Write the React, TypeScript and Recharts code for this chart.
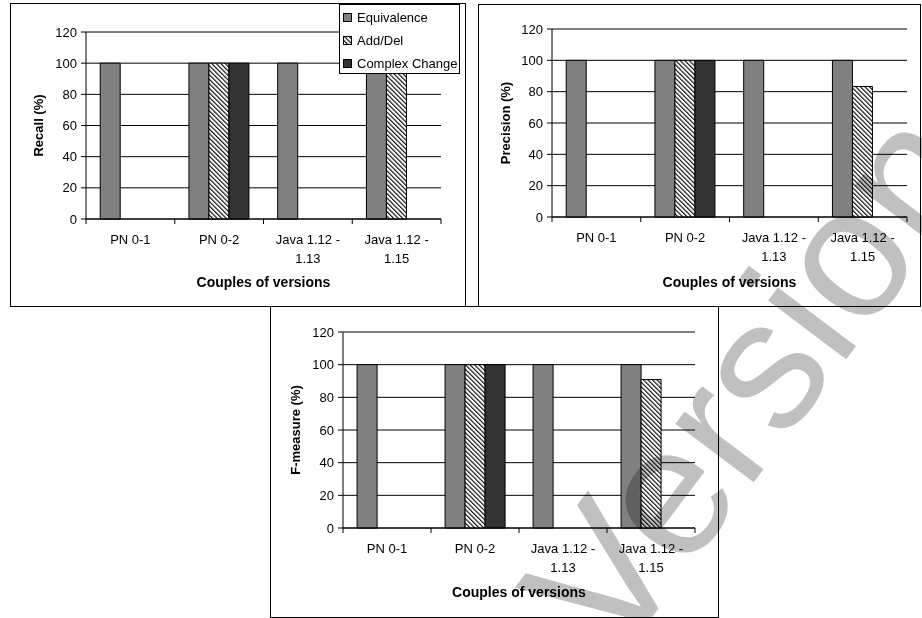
import React from 'react';
import { BarChart, Bar, XAxis, YAxis, CartesianGrid, Legend } from 'recharts';

const categories = ['PN 0-1', 'PN 0-2', 'Java 1.12 - 1.13', 'Java 1.12 - 1.15'];
const seriesNames = ['Equivalence', 'Add/Del', 'Complex Change'];
const yTicks = [0, 20, 40, 60, 80, 100, 120];
const xTitle = 'Couples of versions';

// recall (%)
const recallEquivalence = [100, 100, 100, 100];
const recallAddDel = [null, 100, null, 100];
const recallComplex = [null, 100, null, null];

// precision (%)
const precisionEquivalence = [100, 100, 100, 100];
const precisionAddDel = [null, 100, null, 83.3];
const precisionComplex = [null, 100, null, null];

// f-measure (%)
const fmeasureEquivalence = [100, 100, 100, 100];
const fmeasureAddDel = [null, 100, null, 90.9];
const fmeasureComplex = [null, 100, null, null];

const FONT = '"Liberation Sans", Arial, sans-serif';

const makeRows = (eq: (number | null)[], ad: (number | null)[], cc: (number | null)[]) =>
  categories.map((c, i) => ({ name: c, eq: eq[i], ad: ad[i], cc: cc[i] }));

function CategoryTick(props: any) {
  const { x, y, payload, index } = props;
  const half = payload?.offset ?? 0;
  const label: string = payload.value;
  const parts = label.includes(' - ')
    ? [label.split(' - ')[0] + ' -', label.split(' - ')[1]]
    : [label];
  return (
    <g>
      <line x1={x - half} x2={x - half} y1={y} y2={y + 5} stroke="#000" />
      {index === categories.length - 1 && (
        <line x1={x + half} x2={x + half} y1={y} y2={y + 5} stroke="#000" />
      )}
      <text x={x} y={y + 25} textAnchor="middle" fontSize={13} fill="#000">
        {parts.map((p, i) => (
          <tspan key={i} x={x} dy={i === 0 ? 0 : 18.5}>
            {p}
          </tspan>
        ))}
      </text>
    </g>
  );
}

// legend drawn in the series order, not the sorted payload order
function LegendBox(props: any) {
  const items = props.payload || [];
  const colorOf = (name: string) => items.find((it: any) => it.value === name)?.color ?? '#808080';
  return (
    <div
      style={{
        background: '#fff',
        border: '1px solid #000',
        boxSizing: 'border-box',
        width: 121,
        height: 70,
        paddingTop: 1,
        fontSize: 13,
        color: '#000',
        fontFamily: FONT,
        whiteSpace: 'nowrap',
      }}
    >
      {seriesNames.map((name, i) => (
        <div key={i} style={{ display: 'flex', alignItems: 'center', height: 23, paddingLeft: 3 }}>
          <svg width={9} height={9} style={{ marginRight: 5, flex: 'none' }}>
            <rect x={0.5} y={0.5} width={8} height={8} fill={colorOf(name)} stroke="#000" />
          </svg>
          <span>{name}</span>
        </div>
      ))}
    </div>
  );
}

interface PanelProps {
  id: string;
  yLabel: string;
  eq: (number | null)[];
  ad: (number | null)[];
  cc: (number | null)[];
  left: number;
  top: number;
  width: number;
  height: number;
  margin: { top: number; right: number };
  yWidth: number;
  yLabelOffset: number;
  xHeight: number;
  xLabelOffset: number;
  legend?: boolean;
}

function Panel(p: PanelProps) {
  const data = makeRows(p.eq, p.ad, p.cc);
  const innerW = p.width - 2;
  const innerH = p.height - 2;
  return (
    <div
      style={{
        position: 'absolute',
        left: p.left,
        top: p.top,
        width: p.width,
        height: p.height,
        boxSizing: 'border-box',
        border: '1px solid #000',
        background: '#fff',
      }}
    >
      <BarChart
        width={innerW}
        height={innerH}
        data={data}
        margin={{ top: p.margin.top, right: p.margin.right, left: 0, bottom: 0 }}
        barCategoryGap="16%"
        barGap={0}
      >
        <defs>
          <pattern
            id={`hatch-${p.id}`}
            width={3.2}
            height={3.2}
            patternUnits="userSpaceOnUse"
            patternTransform="rotate(-45)"
          >
            <rect width={3.2} height={3.2} fill="#fff" />
            <line x1={0.6} y1={0} x2={0.6} y2={3.2} stroke="#000" strokeWidth={1.1} />
          </pattern>
        </defs>
        <CartesianGrid vertical={false} stroke="#000" />
        <XAxis
          dataKey="name"
          interval={0}
          tickLine={false}
          tickSize={0}
          tickMargin={0}
          height={p.xHeight}
          stroke="#000"
          tick={<CategoryTick />}
          label={{
            value: xTitle,
            position: 'insideBottom',
            offset: p.xLabelOffset,
            style: { fontWeight: 'bold', fontSize: 14, fill: '#000' },
          }}
        />
        <YAxis
          domain={[0, 120]}
          ticks={yTicks}
          interval={0}
          width={p.yWidth}
          stroke="#000"
          tickSize={5}
          tickMargin={4}
          tick={{ fill: '#000', fontSize: 13 }}
          label={{
            value: p.yLabel,
            angle: -90,
            position: 'insideLeft',
            offset: p.yLabelOffset,
            style: { textAnchor: 'middle', fontWeight: 'bold', fontSize: 13, fill: '#000' },
          }}
        />
        <YAxis
          yAxisId="frame"
          orientation="right"
          domain={[0, 120]}
          width={0}
          tick={false}
          tickLine={false}
          stroke="#000"
        />
        {p.legend && (
          <Legend
            layout="horizontal"
            verticalAlign="middle"
            align="center"
            content={<LegendBox />}
            wrapperStyle={{ top: 0, left: 328, width: 121, height: 70 }}
          />
        )}
        <Bar dataKey="eq" name={seriesNames[0]} fill="#808080" stroke="#000" isAnimationActive={false} />
        <Bar dataKey="ad" name={seriesNames[1]} fill={`url(#hatch-${p.id})`} stroke="#000" isAnimationActive={false} />
        <Bar dataKey="cc" name={seriesNames[2]} fill="#333333" stroke="#000" isAnimationActive={false} />
      </BarChart>
    </div>
  );
}

export default function App() {
  return (
    <div
      style={{
        position: 'absolute',
        left: 0,
        top: 0,
        width: 922,
        height: 618,
        overflow: 'hidden',
        background: '#fff',
        fontFamily: FONT,
      }}
    >
      <Panel
        id="recall"
        yLabel="Recall (%)"
        eq={recallEquivalence}
        ad={recallAddDel}
        cc={recallComplex}
        left={10}
        top={3}
        width={456}
        height={304}
        margin={{ top: 28, right: 24 }}
        yWidth={75}
        yLabelOffset={27}
        xHeight={87}
        xLabelOffset={19}
        legend
      />
      <Panel
        id="precision"
        yLabel="Precision (%)"
        eq={precisionEquivalence}
        ad={precisionAddDel}
        cc={precisionComplex}
        left={478}
        top={4}
        width={443}
        height={303}
        margin={{ top: 24, right: 13 }}
        yWidth={73}
        yLabelOffset={26}
        xHeight={89}
        xLabelOffset={19}
      />
      <Panel
        id="fmeasure"
        yLabel="F-measure (%)"
        eq={fmeasureEquivalence}
        ad={fmeasureAddDel}
        cc={fmeasureComplex}
        left={270}
        top={306}
        width={449}
        height={312}
        margin={{ top: 25, right: 23 }}
        yWidth={72}
        yLabelOffset={24}
        xHeight={89}
        xLabelOffset={20}
      />
      <svg
        width={922}
        height={618}
        style={{ position: 'absolute', left: 0, top: 0, pointerEvents: 'none', mixBlendMode: 'multiply' }}
      >
        <text
          x={616}
          y={665}
          fontSize={185}
          fill="#c0c0c0"
          fontFamily={FONT}
          transform="rotate(-53 616 665)"
        >
          Version
        </text>
      </svg>
    </div>
  );
}
